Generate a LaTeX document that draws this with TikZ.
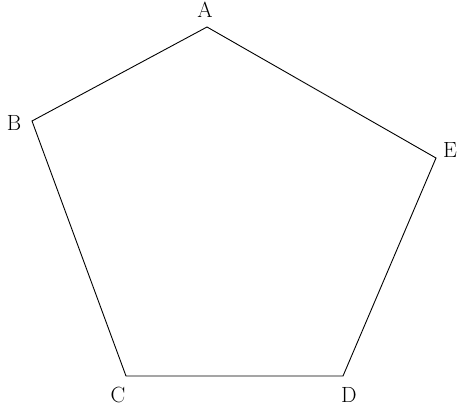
\documentclass[tikz,border=0pt]{standalone}
\begin{document}
\begin{tikzpicture}[x=1pt,y=-1pt,
  edge/.style={draw=black,line width=0.9pt,line join=miter},
  lbl/.style={inner sep=0pt,font=\fontsize{22}{26}\selectfont}]
\useasboundingbox[fill=white] (0,0) rectangle (462,407);
\coordinate (A) at (207,27);
\coordinate (B) at (32,121);
\coordinate (C) at (126,376);
\coordinate (D) at (343,376);
\coordinate (E) at (436,158);
\draw[edge] (A) -- (B) -- (C) -- (D) -- (E) -- cycle;
\node[lbl] (la) at (205,10) {A};
\node[lbl] (lb) at (14,123) {B};
\node[lbl] (lc) at (118,395) {C};
\node[lbl] (ld) at (349,395) {D};
\node[lbl] (le) at (450,150) {E};
\end{tikzpicture}
\end{document}
